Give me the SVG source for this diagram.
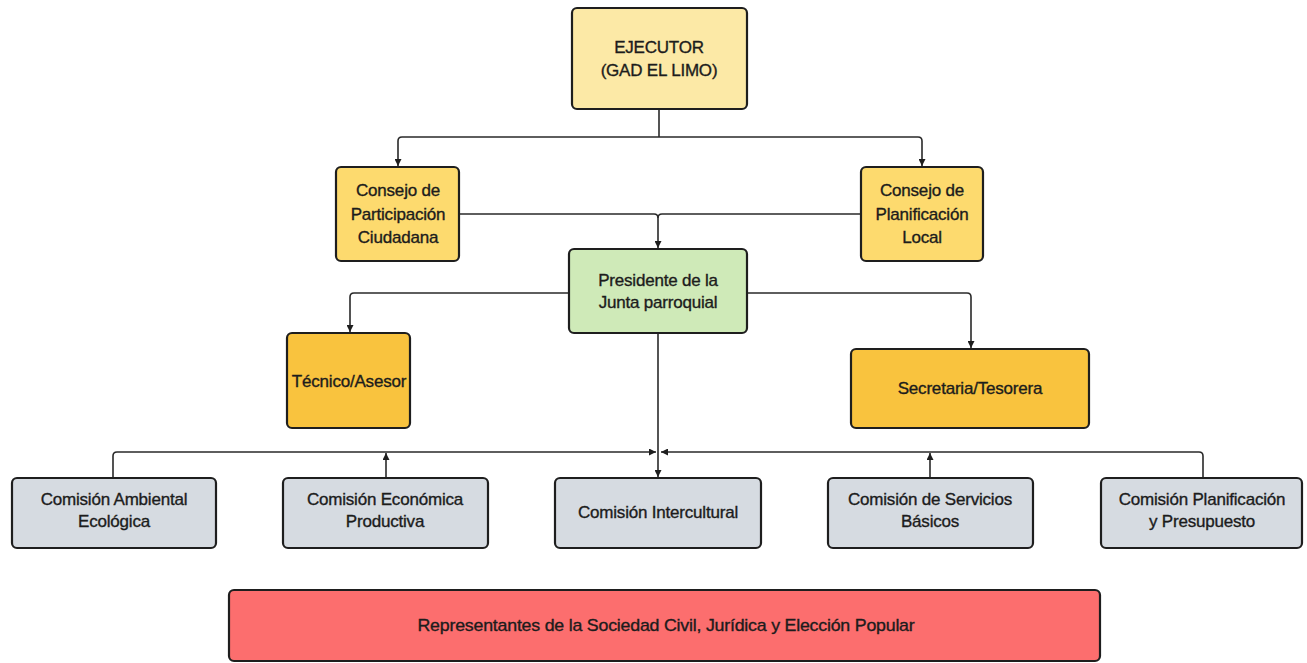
<svg xmlns="http://www.w3.org/2000/svg" width="1307" height="663" viewBox="0 0 1307 663">
<style>
.box{stroke:#1e1e1e;stroke-width:2.2}
.t{font-family:"Liberation Sans",Arial,sans-serif;font-size:17px;fill:#1c1c1c;stroke:#1c1c1c;stroke-width:0.35;text-anchor:middle;letter-spacing:-0.2px}
.c{fill:none;stroke:#2a2a2a;stroke-width:1.6;stroke-linejoin:round}
.pale{fill:#FCE9A6}
.gold{fill:#FDDA6E}
.orange{fill:#F9C33E}
.green{fill:#CFEAB8}
.grey{fill:#D6DBE1}
.red{fill:#FC6E6E}
</style>
<defs>
<marker id="arr" viewBox="0 0 10 10" refX="10" refY="5" markerWidth="7" markerHeight="7" orient="auto" markerUnits="userSpaceOnUse">
<path d="M0,0 L10,5 L0,10 z" fill="#1e1e1e"/>
</marker>
</defs>
<rect width="1307" height="663" fill="#ffffff"/>
<g id="connectors">
<path class="c" d="M659,109 V137"/>
<path class="c" d="M659,137 H402 Q398,137 398,141 V166" marker-end="url(#arr)"/>
<path class="c" d="M659,137 H918 Q922,137 922,141 V166" marker-end="url(#arr)"/>
<path class="c" d="M459,214 H654 Q658,214 658,218 V248" marker-end="url(#arr)"/>
<path class="c" d="M861,214 H662 Q658,214 658,218"/>
<path class="c" d="M569,293 H354 Q350,293 350,297 V332" marker-end="url(#arr)"/>
<path class="c" d="M747,293 H967 Q971,293 971,297 V348" marker-end="url(#arr)"/>
<path class="c" d="M658,333 V477" marker-end="url(#arr)"/>
<path class="c" d="M113,478 V456 Q113,452 117,452 H656" marker-end="url(#arr)"/>
<path class="c" d="M1203,478 V456 Q1203,452 1199,452 H661" marker-end="url(#arr)"/>
<path class="c" d="M386,478 V453" marker-end="url(#arr)"/>
<path class="c" d="M930,478 V453" marker-end="url(#arr)"/>
</g>
<g id="ejecutor">
<rect class="box pale" x="572" y="8" width="175" height="101" rx="5"/>
<text class="t" x="659" y="53">EJECUTOR</text>
<text class="t" x="659" y="76">(GAD EL LIMO)</text>
</g>
<g id="consejo-participacion">
<rect class="box gold" x="336" y="167" width="123" height="94" rx="5"/>
<text class="t" x="398" y="196">Consejo de</text>
<text class="t" x="398" y="220">Participación</text>
<text class="t" x="398" y="243">Ciudadana</text>
</g>
<g id="consejo-planificacion">
<rect class="box gold" x="861" y="167" width="122" height="94" rx="5"/>
<text class="t" x="922" y="196">Consejo de</text>
<text class="t" x="922" y="220">Planificación</text>
<text class="t" x="922" y="243">Local</text>
</g>
<g id="presidente">
<rect class="box green" x="569" y="249" width="178" height="84" rx="5"/>
<text class="t" x="658" y="286">Presidente de la</text>
<text class="t" x="658" y="308">Junta parroquial</text>
</g>
<g id="tecnico">
<rect class="box orange" x="287" y="333" width="123" height="95" rx="5"/>
<text class="t" x="349" y="387">Técnico/Asesor</text>
</g>
<g id="secretaria">
<rect class="box orange" x="851" y="349" width="238" height="79" rx="5"/>
<text class="t" x="970" y="394">Secretaria/Tesorera</text>
</g>
<g id="comision-ambiental">
<rect class="box grey" x="12" y="478" width="204" height="70" rx="5"/>
<text class="t" x="114" y="505">Comisión Ambiental</text>
<text class="t" x="114" y="527">Ecológica</text>
</g>
<g id="comision-economica">
<rect class="box grey" x="283" y="478" width="205" height="70" rx="5"/>
<text class="t" x="385" y="505">Comisión Económica</text>
<text class="t" x="385" y="527">Productiva</text>
</g>
<g id="comision-intercultural">
<rect class="box grey" x="555" y="478" width="206" height="70" rx="5"/>
<text class="t" x="658" y="518">Comisión Intercultural</text>
</g>
<g id="comision-servicios">
<rect class="box grey" x="828" y="478" width="205" height="70" rx="5"/>
<text class="t" x="930" y="505">Comisión de Servicios</text>
<text class="t" x="930" y="527">Básicos</text>
</g>
<g id="comision-planificacion">
<rect class="box grey" x="1101" y="478" width="201" height="70" rx="5"/>
<text class="t" x="1202" y="505">Comisión Planificación</text>
<text class="t" x="1202" y="527">y Presupuesto</text>
</g>
<g id="representantes">
<rect class="box red" x="229" y="590" width="871" height="71" rx="5"/>
<text class="t" x="666" y="631" font-size="16" textLength="497" lengthAdjust="spacingAndGlyphs">Representantes de la Sociedad Civil, Jurídica y Elección Popular</text>
</g>
</svg>
